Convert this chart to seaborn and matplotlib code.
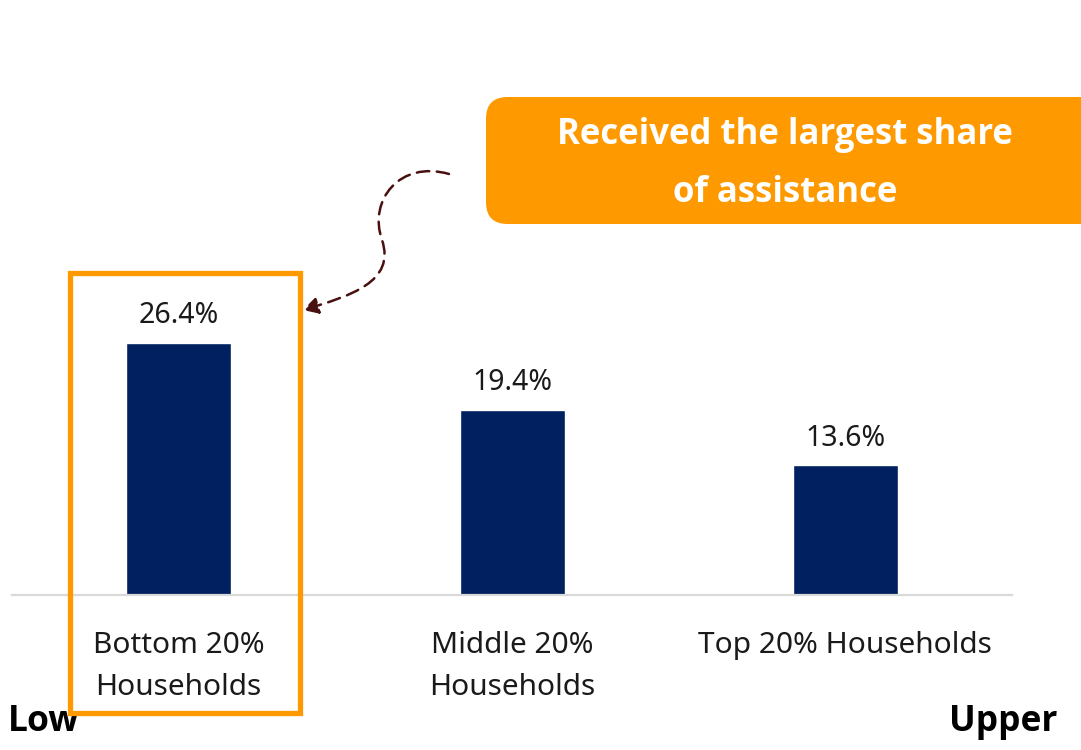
import matplotlib
matplotlib.use("Agg")
import matplotlib.pyplot as plt
import pandas as pd
import seaborn as sns
from matplotlib.patches import FancyArrowPatch, FancyBboxPatch, Rectangle
from matplotlib.path import Path

categories = ["Bottom 20%\nHouseholds", "Middle 20%\nHouseholds", "Top 20% Households"]
shares = [26.4, 19.4, 13.6]
value_labels = ["26.4%", "19.4%", "13.6%"]
callout_text = "Received the largest share\nof assistance"

NAVY = "#002060"
ORANGE = "#FF9900"
ARROW = "#4A1010"
BOLD_FONT = ["Open Sans", "Lato", "DejaVu Sans"]

sns.set_theme(style="white")
plt.rcParams["font.family"] = ["Noto Sans", "DejaVu Sans"]

W, H = 1081, 750
fig = plt.figure(figsize=(W / 100, H / 100), dpi=100)


def fx(px):
    return px / W


def fy(py):
    return 1 - py / H


# axes: baseline at y=595px, 1% = ~9.55px
ax = fig.add_axes([fx(12), fy(595), fx(1000), 382 / H])
df = pd.DataFrame({"group": categories, "share": shares})
sns.barplot(data=df, x="group", y="share", color=NAVY, width=0.315,
            saturation=1, ax=ax)
ax.set_xlim(-0.5, 2.5)
ax.set_ylim(0, 40)
ax.set_xlabel("")
ax.set_ylabel("")
ax.set_yticks([])
for s in ["top", "left", "right"]:
    ax.spines[s].set_visible(False)
ax.spines["bottom"].set_color("#D9D9D9")
ax.spines["bottom"].set_linewidth(1.6)
ax.tick_params(axis="x", length=0, pad=26, labelsize=21.5, labelcolor="#1a1a1a")
for lbl in ax.get_xticklabels():
    lbl.set_linespacing(1.6)

for i, (v, t) in enumerate(zip(shares, value_labels)):
    ax.annotate(t, (i, v), xytext=(0, 9), textcoords="offset points",
                ha="center", va="bottom", fontsize=20.5, color="#1a1a1a")

# orange highlight frame round the first group
fig.patches.append(Rectangle((fx(70), fy(713)), fx(230), 440 / H,
                             transform=fig.transFigure, fill=False,
                             edgecolor=ORANGE, linewidth=3.8, zorder=5))

# callout box
fig.patches.append(FancyBboxPatch((fx(486), fy(224)), fx(620), 127 / H,
                                  boxstyle="round,pad=0,rounding_size=0.02",
                                  transform=fig.transFigure, facecolor=ORANGE,
                                  edgecolor="none", zorder=4,
                                  mutation_aspect=W / H))
fig.text(fx(785), fy(164), callout_text, ha="center", va="center",
         fontsize=25, fontweight="bold", color="white", linespacing=1.85,
         family=BOLD_FONT, zorder=6)

# dashed curved arrow from callout to the frame
verts = [(449, 174), (400, 160), (368, 200), (382, 240),
         (396, 282), (350, 296), (303, 310)]
codes = [Path.MOVETO] + [Path.CURVE4] * 6
path = Path([(fx(x), fy(y)) for x, y in verts], codes)
arrow = FancyArrowPatch(path=path, arrowstyle="-|>,head_length=9,head_width=5",
                        color=ARROW, linestyle=(0, (5, 3)), linewidth=1.8,
                        transform=fig.transFigure, zorder=6)
fig.patches.append(arrow)

fig.text(fx(8), fy(722), "Low", ha="left", va="center", fontsize=25.5,
         fontweight="bold", color="black", family=BOLD_FONT)
fig.text(fx(1057), fy(722), "Upper", ha="right", va="center", fontsize=25.5,
         fontweight="bold", color="black", family=BOLD_FONT)

fig.savefig("out.png", dpi=100)
